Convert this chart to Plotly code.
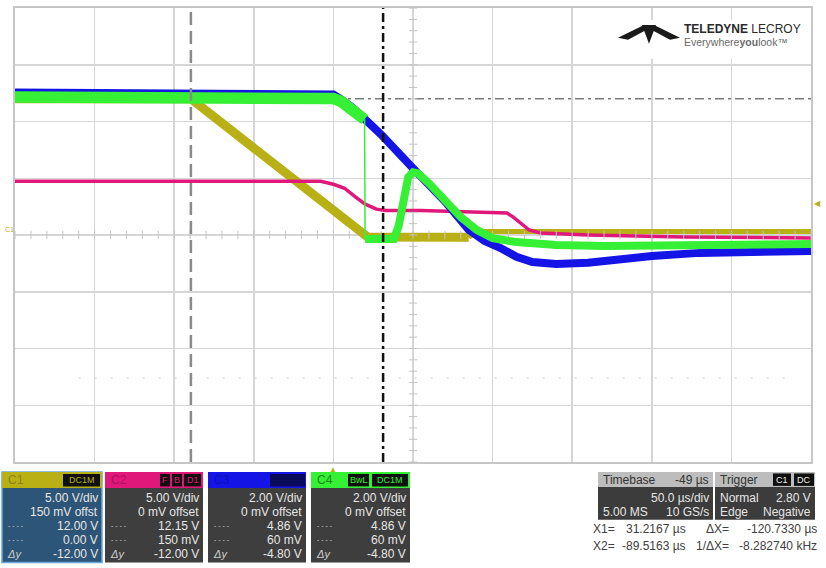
import plotly.graph_objects as go

# ---------------- data (time in µs relative to trigger, values in volts) ----------------
c1_t = [-200, -89.5, 21.5, 40, 85, 90, 300]
c1_v = [12.0, 12.0, -0.18, -0.2, -0.2, 0.3, 0.3]
c1_split = 4  # after this index the settled trace gets thinner

c2_t = [-200, -8, 0, 7, 14, 20, 27, 33, 55, 100, 109, 113, 118, 123, 130, 160, 220, 300]
c2_v = [4.74, 4.74, 4.47, 4.12, 3.33, 2.72, 2.28, 2.15, 2.15, 2.02, 1.93, 1.58, 1.05, 0.44, 0.18, 0.0, -0.18, -0.26]

c3_t = [-200, -8, 0, 5, 12, 20, 30, 50, 70, 85, 95, 105, 115, 125, 140, 160, 180, 200, 230, 260, 300]
c3_v = [5.02, 5.02, 4.95, 4.77, 4.49, 4.07, 3.54, 2.35, 1.19, 0.18, -0.21, -0.46, -0.77, -0.95, -1.02, -0.98, -0.84, -0.74, -0.63, -0.60, -0.56]

c4_t = [-200, -8, 0, 5, 12, 19.6, 19.9, 38, 41, 44, 47, 50, 53, 60, 70, 80, 90, 100, 115, 140, 170, 220, 300]
c4_v = [4.86, 4.86, 4.81, 4.70, 4.42, 4.07, -0.14, -0.14, 0.32, 1.37, 2.04, 2.21, 2.18, 1.82, 1.19, 0.63, 0.18, -0.11, -0.25, -0.35, -0.39, -0.35, -0.32]
c4_drop = 5  # index where the fast vertical drop starts

cursor_x1 = 31.2167
cursor_x2 = -89.5163
cursor_y1 = 12.00
cursor_y2 = 0.00
trigger_level = 2.80

c1_info = ["5.00 V/div", "150 mV offst", "12.00 V", "0.00 V", "-12.00 V"]
c2_info = ["5.00 V/div", "0 mV offset", "12.15 V", "150 mV", "-12.00 V"]
c3_info = ["2.00 V/div", "0 mV offset", "4.86 V", "60 mV", "-4.80 V"]
c4_info = ["2.00 V/div", "0 mV offset", "4.86 V", "60 mV", "-4.80 V"]

# ---------------- colours ----------------
YEL = "#b8b014"
MAG = "#e0187a"
BLU = "#1414e6"
GRN = "#35f035"
FONT = "Liberation Sans, Arial, sans-serif"

W, H = 826, 568
L, R, T, B = 15, 811, 6, 462


def px(x):
    return (x - L) / (R - L)


def py(y):
    return (B - y) / (B - T)


fig = go.Figure()

# traces (C1 and C2 on 5 V/div axis, C3 and C4 on 2 V/div axis)
fig.add_trace(go.Scatter(x=c1_t[:c1_split + 1], y=c1_v[:c1_split + 1], mode="lines",
                         line=dict(color=YEL, width=9), yaxis="y"))
fig.add_trace(go.Scatter(x=c1_t[c1_split:], y=c1_v[c1_split:], mode="lines",
                         line=dict(color=YEL, width=5), yaxis="y"))
fig.add_trace(go.Scatter(x=c3_t, y=c3_v, mode="lines", line=dict(color=BLU, width=8), yaxis="y2"))
fig.add_trace(go.Scatter(x=c4_t[:c4_drop + 1], y=c4_v[:c4_drop + 1], mode="lines",
                         line=dict(color=GRN, width=11.5), yaxis="y2"))
fig.add_trace(go.Scatter(x=c4_t[c4_drop:c4_drop + 2], y=c4_v[c4_drop:c4_drop + 2], mode="lines",
                         line=dict(color=GRN, width=1.5), yaxis="y2"))
fig.add_trace(go.Scatter(x=c4_t[c4_drop + 1:], y=c4_v[c4_drop + 1:], mode="lines",
                         line=dict(color=GRN, width=8), yaxis="y2"))
fig.add_trace(go.Scatter(x=c2_t, y=c2_v, mode="lines", line=dict(color=MAG, width=3.5), yaxis="y"))

# graticule minor ticks on the centre lines
tick_y = [k for k in range(-20, 21)]
fig.add_trace(go.Scatter(x=[50] * len(tick_y), y=tick_y, mode="markers", yaxis="y",
                         marker=dict(symbol="line-ew", size=6, line=dict(color="#c4c4c4", width=1))))
tick_x = [k * 10 for k in range(-20, 31)]
fig.add_trace(go.Scatter(x=tick_x, y=[0] * len(tick_x), mode="markers", yaxis="y",
                         marker=dict(symbol="line-ns", size=6, line=dict(color="#c4c4c4", width=1))))

shapes = []
ann = []

# trigger position & level markers
ann.append(dict(xref="x", yref="paper", x=0, y=0, yshift=-1, text="▲", showarrow=False,
                xanchor="center", yanchor="top", font=dict(size=8, color=YEL)))
ann.append(dict(xref="paper", yref="y", x=1, xshift=1, y=trigger_level, text="◀", showarrow=False,
                xanchor="left", yanchor="middle", font=dict(size=8, color=YEL)))

# cursors
shapes.append(dict(type="line", xref="x", yref="paper", x0=cursor_x2, x1=cursor_x2, y0=0, y1=1,
                   line=dict(color="#8a8a8a", width=2.5, dash="13px,6px"), layer="above"))
shapes.append(dict(type="line", xref="x", yref="paper", x0=cursor_x1, x1=cursor_x1, y0=0, y1=1,
                   line=dict(color="#111111", width=2.5, dash="9px,4px,3px,4px"), layer="above"))
shapes.append(dict(type="line", xref="paper", yref="y", x0=0, x1=1, y0=cursor_y1, y1=cursor_y1,
                   line=dict(color="#7a7a7a", width=1.5, dash="9px,4px,3px,4px"), layer="below"))
shapes.append(dict(type="line", xref="paper", yref="y", x0=0, x1=1, y0=cursor_y2, y1=cursor_y2,
                   line=dict(color="#8a8a8a", width=1.5, dash="9px,4px,3px,4px"), layer="below"))
# faint dotted reference line
shapes.append(dict(type="line", xref="paper", yref="y", x0=0.08, x1=0.98, y0=-12.6, y1=-12.6,
                   line=dict(color="#dddddd", width=1.5, dash="2px,14px"), layer="below"))


def rect(x0, y0, x1, y1, fill, lc=None, lw=0):
    shapes.append(dict(type="rect", xref="paper", yref="paper", x0=px(x0), x1=px(x1),
                       y0=py(y1), y1=py(y0), fillcolor=fill,
                       line=dict(color=lc or fill, width=lw), layer="above"))


def txt(x, y, s, anchor="right", color="#e6e6e6", size=12, bold=False):
    ann.append(dict(xref="paper", yref="paper", x=px(x), y=py(y), text=("<b>%s</b>" % s) if bold else s,
                    showarrow=False, xanchor=anchor, yanchor="middle",
                    font=dict(family=FONT, size=size, color=color)))


# logo
rect(612, 18, 808, 57, "white")
shapes.append(dict(type="path", xref="paper", yref="paper", layer="above", fillcolor="#1a1a1a",
                   line=dict(width=0),
                   path="M %f,%f L %f,%f L %f,%f L %f,%f Z" % (px(618), py(36), px(644), py(23), px(648), py(27), px(628), py(38))))
shapes.append(dict(type="path", xref="paper", yref="paper", layer="above", fillcolor="#1a1a1a",
                   line=dict(width=0),
                   path="M %f,%f L %f,%f L %f,%f L %f,%f Z" % (px(680), py(36), px(654), py(23), px(650), py(27), px(670), py(38))))
shapes.append(dict(type="path", xref="paper", yref="paper", layer="above", fillcolor="#1a1a1a",
                   line=dict(width=0),
                   path="M %f,%f L %f,%f L %f,%f Z" % (px(642), py(23), px(656), py(23), px(649), py(42))))
txt(682, 27, "<b>TELEDYNE</b> LECROY", anchor="left", color="#2a2a2a", size=12)
txt(682, 40, "Everywhere<b>you</b>look™", anchor="left", color="#6a6a6a", size=10.5)

# C1 left marker
txt(3, 228, "C1", anchor="left", color=YEL, size=7)

# channel panels
panels = [
    (2, 102, YEL, "#2d5577", "C1", c1_info, [("DC1M", 63, 100)], "#8a8410", "#6aa8dc"),
    (105, 203, MAG, "#3e3e3e", "C2", c2_info, [("F", 160, 170), ("B", 172, 182), ("D1", 184, 201)], "#b01060", None),
    (208, 306, BLU, "#3e3e3e", "C3", c3_info, [("·", 270, 305)], "#1010b8", None),
    (311, 410, GRN, "#3e3e3e", "C4", c4_info, [("BwL", 348, 369), ("DC1M", 372, 408)], "#1a8a1a", None),
]
for x0, x1, hc, bc, name, info, boxes, namec, border in panels:
    rect(x0, 472, x1, 563, bc, border, 1.5 if border else 0)
    rect(x0, 472, x1, 488, hc)
    txt(x0 + 4, 480, name, anchor="left", color=namec, size=12)
    for label, bx0, bx1 in boxes:
        rect(bx0, 474, bx1, 486.5, "#101010" if name != "C3" else "#0a0a5a")
        txt((bx0 + bx1) / 2, 480.5, label, anchor="center", color=hc if name != "C3" else "#0a0a5a", size=9)
    rows_y = [498, 512, 526, 540, 554]
    for s, yy in zip(info, rows_y):
        txt(x1 - 2, yy, s)
    txt(x0 + 4, 526, "- - - -", anchor="left", color="#cfcfcf", size=7)
    txt(x0 + 4, 540, "- - - -", anchor="left", color="#cfcfcf", size=7)
    txt(x0 + 3, 554, "<i>Δy</i>", anchor="left", color="#cfcfcf", size=11)

# timebase panel
rect(598, 472, 713, 520, "#3c3c3c")
rect(598, 472, 713, 487, "#bdbdbd")
txt(601, 480, "Timebase", anchor="left", color="#333333")
txt(711, 480, "-49 µs", anchor="right", color="#333333")
txt(711, 498, "50.0 µs/div")
txt(601, 512, "5.00 MS", anchor="left")
txt(711, 512, "10 GS/s")

# trigger panel
rect(715, 472, 815, 520, "#3c3c3c")
rect(715, 472, 815, 487, "#bdbdbd")
txt(718, 480, "Trigger", anchor="left", color="#333333")
rect(773, 473.5, 791, 486, "#101010")
txt(782, 480, "C1", anchor="center", color="#f0f0f0", size=9)
rect(794, 473.5, 814, 486, "#101010")
txt(804, 480, "DC", anchor="center", color="#f0f0f0", size=9)
txt(718, 498, "Normal", anchor="left")
txt(813, 498, "2.80 V")
txt(718, 512, "Edge", anchor="left")
txt(813, 512, "Negative")

# cursor readouts
txt(591, 529, "X1=", anchor="left", color="#404040")
txt(688, 529, "31.2167 µs", anchor="right", color="#404040")
txt(704, 529, "ΔX=", anchor="left", color="#404040")
txt(819, 529, "-120.7330 µs", anchor="right", color="#404040")
txt(591, 546, "X2=", anchor="left", color="#404040")
txt(688, 546, "-89.5163 µs", anchor="right", color="#404040")
txt(694, 546, "1/ΔX=", anchor="left", color="#404040")
txt(819, 546, "-8.282740 kHz", anchor="right", color="#404040")

fig.update_layout(
    width=W, height=H,
    margin=dict(l=L, r=W - R, t=T, b=H - B),
    paper_bgcolor="white", plot_bgcolor="white",
    showlegend=False, hovermode=False,
    xaxis=dict(range=[-200, 300], dtick=50, tick0=0, showgrid=True, gridcolor="#d6d6d6", gridwidth=1.5,
               zeroline=False, showticklabels=False, ticks="", showline=True, mirror=True,
               linecolor="#c6c6c6", linewidth=2, fixedrange=True),
    yaxis=dict(range=[-20, 20], dtick=5, tick0=0, showgrid=True, gridcolor="#d6d6d6", gridwidth=1.5,
               zeroline=False, showticklabels=False, ticks="", showline=True, mirror=True,
               linecolor="#c6c6c6", linewidth=2, fixedrange=True),
    yaxis2=dict(range=[-8, 8], overlaying="y", showgrid=False, zeroline=False, showticklabels=False,
                ticks="", fixedrange=True),
    shapes=shapes, annotations=ann,
    font=dict(family=FONT),
)

fig.write_html("out.html", config={"displayModeBar": False, "staticPlot": True},
               post_script="document.body.style.margin='0';document.body.style.overflow='hidden';")
